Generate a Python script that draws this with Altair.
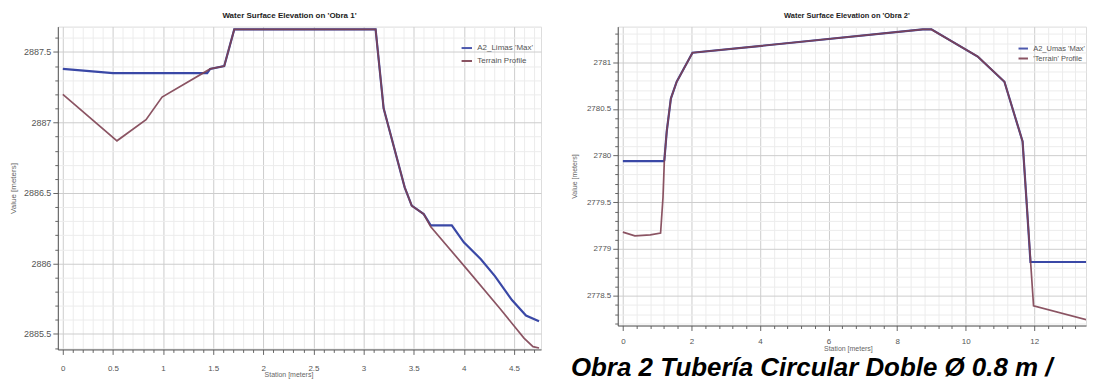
import altair as alt
import pandas as pd

# ---------------- data ----------------
# Obra 1
l_terrain_sta = [0.00, 0.54, 0.83, 0.99, 1.47, 1.61, 1.71, 3.12, 3.20, 3.41, 3.48, 3.60, 3.67, 4.03, 4.36, 4.60, 4.69, 4.75]
l_terrain_elev = [2887.20, 2886.87, 2887.02, 2887.18, 2887.38, 2887.40, 2887.66, 2887.66, 2887.10, 2886.54,
                  2886.41, 2886.35, 2886.26, 2885.96, 2885.68, 2885.47, 2885.41, 2885.40]
l_water_sta = [0.00, 0.50, 1.44, 1.47, 1.61, 1.71, 3.12, 3.20, 3.41, 3.48, 3.60, 3.67, 3.88, 4.00, 4.17, 4.31,
               4.48, 4.62, 4.75]
l_water_elev = [2887.38, 2887.35, 2887.35, 2887.38, 2887.40, 2887.66, 2887.66, 2887.10, 2886.54, 2886.41,
                2886.35, 2886.27, 2886.27, 2886.15, 2886.03, 2885.91, 2885.74, 2885.63, 2885.59]
l_series = ["A2_Limas 'Max'", "Terrain Profile"]
l_title = "Water Surface Elevation on 'Obra 1'"

# Obra 2
r_terrain_sta = [0.00, 0.35, 0.80, 1.10, 1.17, 1.21, 1.28, 1.40, 1.57, 2.03, 8.75, 9.00, 10.35, 11.13, 11.66,
                 11.77, 11.98, 13.75]
r_terrain_elev = [2779.18, 2779.14, 2779.15, 2779.17, 2779.55, 2779.95, 2780.26, 2780.61, 2780.79, 2781.10,
                  2781.35, 2781.35, 2781.06, 2780.79, 2780.15, 2779.54, 2778.39, 2778.22]
r_water_sta = [0.00, 1.19, 1.21, 1.28, 1.40, 1.57, 2.03, 8.75, 9.00, 10.35, 11.13, 11.66, 11.77, 11.89, 13.75]
r_water_elev = [2779.94, 2779.94, 2779.95, 2780.26, 2780.61, 2780.79, 2781.10, 2781.35, 2781.35, 2781.06,
                2780.79, 2780.15, 2779.54, 2778.86, 2778.86]
r_series = ["A2_Umas 'Max'", "'Terrain' Profile"]
r_title = "Water Surface Elevation on 'Obra 2'"

caption = "Obra 2 Tubería Circular Doble Ø 0.8 m /"

# tick lists (minor + major)
l_x_ticks = [round(0.1 * i, 1) for i in range(48)]
l_y_ticks = [round(2885.4 + 0.1 * i, 1) for i in range(23)]
r_x_ticks = [round(0.4 * i, 1) for i in range(34)]
r_y_ticks = [round(2778.2 + 0.1 * i, 1) for i in range(32)]

BLUE = "#3a48a6"
TERRAIN = "#7e4152"
FONT = "Liberation Sans"

HALF = "abs(datum.value*2 - round(datum.value*2)) < 0.001"
TWO = "abs(datum.value/2 - round(datum.value/2)) < 0.001"


def make_axis(values, major, title, label_size, label_pad, title_size, title_x, title_y, major_tick=5):
    return alt.Axis(
        values=values, title=title, format="~g",
        labelExpr=f"({major}) ? datum.label : ''",
        labelOverlap=False, labelFlush=False,
        grid=True,
        gridColor={"condition": {"test": major, "value": "#cdcdcd"}, "value": "#ececec"},
        gridWidth=1,
        tickSize={"condition": {"test": major, "value": major_tick}, "value": 3},
        tickColor="#666", domainColor="#555",
        labelColor="#555", labelFont=FONT, labelFontSize=label_size, labelPadding=label_pad,
        titleFont=FONT, titleFontSize=title_size, titleColor="#666", titleFontWeight="normal",
        titleX=title_x, titleY=title_y,
    )


def panel(ts, te, ws, we, names, title, xdom, ydom, w, h, xaxis, yaxis, title_dx, title_size,
          legend_size, legend_x, legend_y, row_pad, symbol_size, extra=None):
    ter = pd.DataFrame({"station": ts, "elev": te, "series": names[1]})
    wat = pd.DataFrame({"station": ws, "elev": we, "series": names[0]})
    color = alt.Color(
        "series:N", title=None,
        scale=alt.Scale(domain=names, range=[BLUE, TERRAIN]),
        legend=alt.Legend(orient="none", legendX=legend_x, legendY=legend_y, symbolType="stroke",
                          symbolSize=symbol_size, symbolStrokeWidth=2, labelFont=FONT,
                          labelFontSize=legend_size, labelColor="#555", rowPadding=row_pad,
                          labelOffset=4, padding=0),
    )
    x = alt.X("station:Q", scale=alt.Scale(domain=xdom, nice=False, zero=False), axis=xaxis)
    y = alt.Y("elev:Q", scale=alt.Scale(domain=ydom, nice=False, zero=False), axis=yaxis)
    wl = alt.Chart(wat).mark_line(strokeWidth=2.2, clip=True).encode(x=x, y=y, color=color)
    tl = alt.Chart(ter).mark_line(strokeWidth=1.7, clip=True, opacity=0.9).encode(x=x, y=y, color=color)
    layers = [wl, tl]
    if extra is not None:
        layers.append(extra)
    return alt.layer(*layers).properties(
        width=w, height=h,
        title=alt.TitleParams(title, font=FONT, fontSize=title_size, fontWeight="bold", color="#222",
                              offset=7, dx=title_dx),
    )


LW, LH = 485, 324
RW, RH = 470, 300

left = panel(
    l_terrain_sta, l_terrain_elev, l_water_sta, l_water_elev, l_series, l_title,
    [-0.05, 4.77], [2885.39, 2887.68], LW, LH,
    make_axis(l_x_ticks, HALF, "Station [meters]", 8, 10, 7, LW / 2 - 11, 21),
    make_axis(l_y_ticks, HALF, "Value [meters]", 9, 2, 8, -40, LH / 2),
    -10, 8, 8, LW - 81, 15, 2, 110,
)

cap = alt.Chart(alt.Data(values=[{}])).mark_text(
    align="left", baseline="alphabetic", font=FONT, fontSize=26, fontStyle="italic", fontWeight="bold",
    color="#000",
).encode(x=alt.value(-47), y=alt.value(351), text=alt.value(caption))

right = panel(
    r_terrain_sta, r_terrain_elev, r_water_sta, r_water_elev, r_series, r_title,
    [-0.15, 13.51], [2778.18, 2781.38], RW, RH,
    make_axis(r_x_ticks, TWO, "Station [meters]", 8, 7, 7, RW / 2 - 4, 19),
    make_axis(r_y_ticks, HALF, "Value [meters]", 8, 2, 7, -40, RH / 2),
    -5, 7.5, 7.5, RW - 69, 16, 0, 90, extra=cap,
)

chart = alt.hconcat(left, right, spacing=28).resolve_scale(
    x="independent", y="independent", color="independent"
).resolve_legend(color="independent").properties(
    padding={"left": 1, "top": 2, "right": 0, "bottom": 0}
).configure_view(stroke="#666", strokeWidth=1).configure(background="white")

chart.save("out.html", embed_options={"renderer": "svg", "actions": False})
